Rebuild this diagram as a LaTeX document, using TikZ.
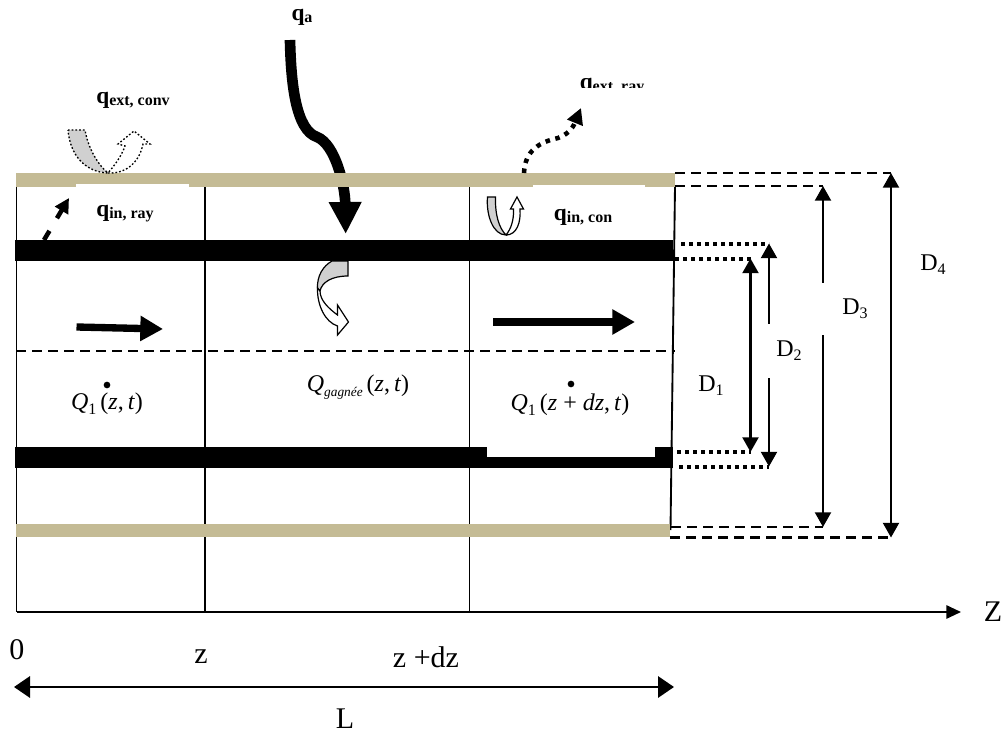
\documentclass[tikz,border=0pt]{standalone}
\usepackage{fontspec}
\setmainfont{Liberation Serif}
\usetikzlibrary{arrows.meta}
\definecolor{tanbar}{RGB}{196,187,149}
\definecolor{grayfill}{RGB}{208,208,208}
\newcommand{\heatlabel}[1]{\textbf{\fontsize{17.5}{17.5}\selectfont q\raisebox{-1.5pt}{\fontsize{12}{12}\selectfont #1}}}
\newcommand{\diamlabel}[1]{\fontsize{18}{18}\selectfont D\raisebox{-3pt}{\fontsize{12}{12}\selectfont #1}}
\newcommand{\flowlabel}[2]{\fontsize{18}{18}\selectfont\textit{Q}\raisebox{-3.5pt}{\fontsize{#2}{#2}\selectfont #1}\,}
\tikzset{
    txt/.style={inner sep=0pt},
    axistxt/.style={inner sep=0pt,font=\fontsize{22.5}{22.5}\selectfont},
    wall/.style={line width=1.4pt},
    dimarrow/.style={line width=1.6pt,{Triangle[length=11pt,width=12pt]}-{Triangle[length=11pt,width=12pt]}},
    dashline/.style={line width=1.8pt,dash pattern=on 7.5pt off 4.5pt},
    dotline/.style={line width=3pt,dash pattern=on 3pt off 3pt},
    fluxline/.style={line width=8pt,-{Triangle[length=24pt,width=23pt]}},
    bentarrow/.style={draw,line width=0.9pt,fill=white},
    bentgray/.style={draw,line width=0.9pt,fill=grayfill},
    dotbent/.style={draw,line width=1pt,dash pattern=on 1.3pt off 1.5pt},
}
\begin{document}
\begin{tikzpicture}[x=0.75pt,y=-0.75pt]
    \useasboundingbox (0,0) rectangle (1008,735);
    % grid corners
    \coordinate (w0) at (16.5,180);
    \coordinate (w1) at (205,187);
    \coordinate (w2) at (469.5,187);
    \coordinate (w3) at (675,187);
    \coordinate (b0) at (16.5,612);
    \coordinate (b1) at (205,612);
    \coordinate (b2) at (469.5,612);
    \coordinate (b3) at (670.5,530);
    \coordinate (zend) at (961,612);
    \draw[wall] (w0) -- (b0);
    \draw[wall] (w1) -- (b1);
    \draw[wall] (w2) -- (b2);
    \draw[wall] (w3) -- (b3);
    \draw[wall,-{Triangle[length=11pt,width=10pt]}] (b0) -- (zend);
    % absorbed flux
    \coordinate (qa0) at (290,40);
    \coordinate (qa1) at (345.7,234);
    \draw[fluxline] (qa0) .. controls (291,85) and (296,130) .. (317,137)
        .. controls (335,144) and (345,185) .. (qa1);
    % walls
    \fill[tanbar] (16,173) rectangle (675,187);
    \fill[white] (76,184) rectangle (189,188);
    \fill[white] (533,185) rectangle (645,188);
    \fill[tanbar] (16,524) rectangle (670,537);
    \fill[black] (15,240) rectangle (673,261);
    \fill[black] (15,447) rectangle (673,468);
    \fill[white] (487,447) rectangle (655,457);
    % axis of the tube
    \coordinate (m0) at (16,351);
    \coordinate (m1) at (675,351);
    \draw[dashline] (m0) -- (m1);
    % guide lines to the diameters
    \coordinate (g4a) at (675,173);
    \coordinate (g4b) at (891,173);
    \coordinate (g3a) at (675,186);
    \coordinate (g3b) at (823,186);
    \coordinate (g2a) at (681,243.5);
    \coordinate (g2b) at (769,243.5);
    \coordinate (g1a) at (675,258.5);
    \coordinate (g1b) at (750.5,258.5);
    \coordinate (g1c) at (677,452);
    \coordinate (g1d) at (750.5,452);
    \coordinate (g2c) at (679,466.5);
    \coordinate (g2d) at (769,466.5);
    \coordinate (g3c) at (671,527);
    \coordinate (g3d) at (823,527);
    \coordinate (g4c) at (670,537.5);
    \coordinate (g4d) at (891,537.5);
    \draw[dashline] (g4a) -- (g4b);
    \draw[dashline] (g3a) -- (g3b);
    \draw[dashline] (g3c) -- (g3d);
    \draw[dashline] (g4c) -- (g4d);
    \draw[dotline] (g2a) -- (g2b);
    \draw[dotline] (g1a) -- (g1b);
    \draw[dotline] (g1c) -- (g1d);
    \draw[dotline] (g2c) -- (g2d);
    \draw[dimarrow] (g1b) -- (g1d);
    \draw[dimarrow] (g2b) -- (g2d);
    \draw[dimarrow] (g3b) -- (g3d);
    \draw[dimarrow] (g4b) -- (g4d);
    \node[txt,fill=white,minimum width=33pt,minimum height=40pt] (d2) at (789,351) {\diamlabel{2}};
    \node[txt,fill=white,minimum width=51pt,minimum height=39pt] (d3) at (855,309) {\diamlabel{3}};
    \node[txt] (d1) at (711,386) {\diamlabel{1}};
    \node[txt] (d4) at (933,265) {\diamlabel{4}};
    % flow arrows
    \coordinate (f0) at (76.5,327);
    \coordinate (f1) at (163,329);
    \coordinate (f2) at (493,322);
    \coordinate (f3) at (635,322);
    \draw[line width=5.5pt,-{Triangle[length=17pt,width=18pt]}] (f0) -- (f1);
    \draw[line width=5.5pt,-{Triangle[length=17pt,width=18pt]}] (f2) -- (f3);
    % radiation
    \coordinate (r0) at (44,240);
    \coordinate (r1) at (69,198);
    \draw[line width=3.4pt,dash pattern=on 8pt off 11pt,-{Triangle[length=11pt,width=11pt]}] (r0) -- (r1);
    \coordinate (r2) at (524,173);
    \coordinate (r3) at (581,108);
    \draw[line width=3.4pt,dash pattern=on 3.4pt off 4.2pt,-{Triangle[length=12pt,width=12pt]}]
        (r2) .. controls (525,150) and (540,142) .. (558,138) .. controls (566,135) and (572,130) .. (r3);
    % bent arrows
    \path[fill=grayfill] (68,130) -- (85,130) .. controls (88,148) and (98,165) .. (108,173)
        .. controls (85,172) and (70,155) .. cycle;
    \draw[dotbent] (68,130) -- (85,130) .. controls (88,148) and (98,165) .. (108,173)
        .. controls (85,172) and (70,155) .. cycle;
    \draw[dotbent] (108,173) .. controls (128,174) and (140,160) .. (143,144) -- (150,144) -- (134,131)
        -- (118,144) -- (125,146) .. controls (122,155) and (115,165) .. (108,173);
    \path[bentgray] (487.5,197) -- (495.5,197) .. controls (495,215) and (499,228) .. (506,235)
        .. controls (493,235) and (486,215) .. cycle;
    \path[bentarrow] (506,235) .. controls (517,235) and (521,222) .. (520,209) -- (523.5,209) -- (517,197)
        -- (510.5,209) -- (513.5,209) .. controls (514,220) and (511,229) .. (506,235);
    \path[bentgray] (348,261) -- (332,261) .. controls (323,266) and (317,276) .. (317.5,288)
        -- (320,291) .. controls (322,282) and (332,276) .. (348,276) -- cycle;
    \path[bentarrow] (317.5,288) .. controls (317,305) and (325,322) .. (337.5,326) -- (337.5,335)
        -- (348.5,322) -- (337.5,305) -- (337.5,315) .. controls (328,308) and (320,300) .. (320,291) -- cycle;
    % flux labels
    \node[txt] (qa) at (302,17) {\heatlabel{a}};
    \node[txt] (qconv) at (133,100) {\heatlabel{ext, conv}};
    \node[txt] (qray) at (125,214) {\heatlabel{in, ray}};
    \node[txt] (qcon) at (583,217) {\heatlabel{in, con}};
    \begin{scope}
        \clip (570,60) rectangle (650,88);
        \node[txt] (qext) at (612,87) {\heatlabel{ext, ray}};
    \end{scope}
    % enthalpy labels
    \node[txt] (qz) at (107,404) {\flowlabel{1}{12}(\textit{z},\,\textit{t})};
    \node[txt] (qg) at (358,387) {\flowlabel{\textit{gagnée}}{10}(\textit{z},\,\textit{t})};
    \node[txt] (qd) at (570,405) {\flowlabel{1}{12}(\textit{z} + \textit{dz},\,\textit{t})};
    \node[circle,fill=black,inner sep=0pt,minimum size=5pt] (dot0) at (107,385) {};
    \node[circle,fill=black,inner sep=0pt,minimum size=5pt] (dot1) at (571,384) {};
    % axis labels
    \node[axistxt] (zero) at (17,650) {0};
    \node[axistxt] (zl) at (201,657) {z};
    \node[axistxt] (zdz) at (426,657) {z +dz};
    \node[axistxt] (len) at (345,719) {L};
    \node[axistxt] (zax) at (993,612) {Z};
    \coordinate (l0) at (14,687);
    \coordinate (l1) at (674,687);
    \draw[line width=1.6pt,{Triangle[length=12pt,width=16pt]}-{Triangle[length=12pt,width=16pt]}] (l0) -- (l1);
\end{tikzpicture}
\end{document}
